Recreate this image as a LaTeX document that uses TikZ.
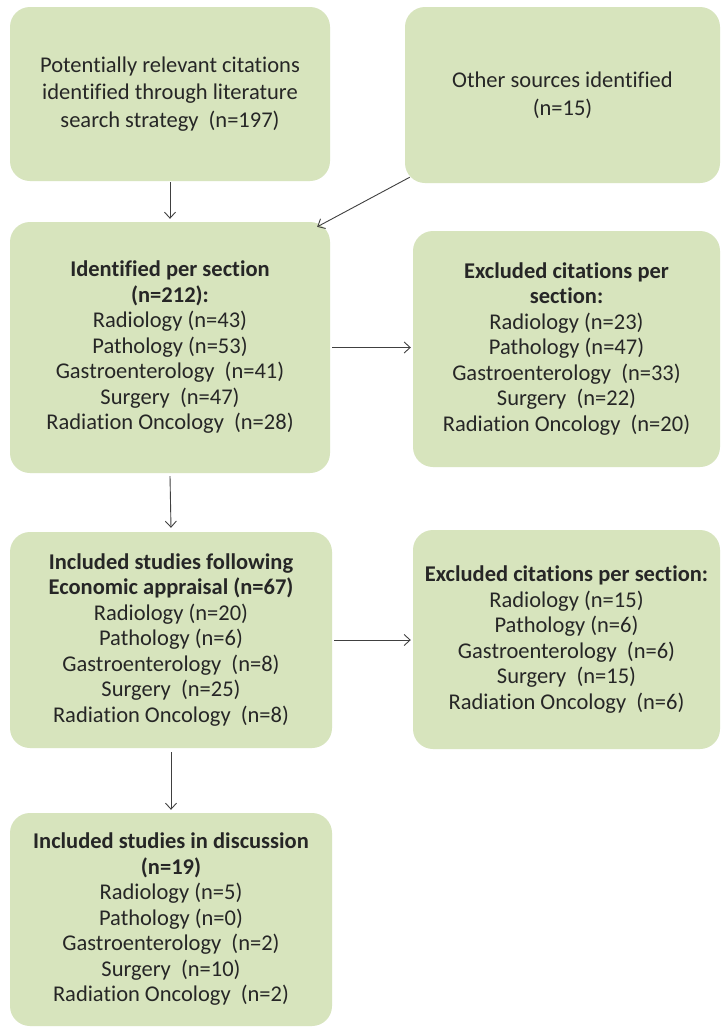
\documentclass[tikz,border=0pt]{standalone}
\usepackage{fontspec}
\setmainfont{Carlito}[RawFeature={-liga;-dlig;-calt;-rlig;-clig}]
\usetikzlibrary{arrows.meta}
\definecolor{boxfill}{HTML}{D7E4BD}
\definecolor{ink}{HTML}{262626}
\definecolor{arrowgray}{HTML}{404040}
% wider space before the counts
\newcommand\wgap{\hspace{0.45em}}
\begin{document}
\begin{tikzpicture}[x=1pt,y=-1pt,
  flowbox/.style={draw=none, fill=boxfill, rounded corners=20pt, align=center,
    text=ink, inner sep=0pt, font=\fontsize{22.5}{25.5}\selectfont},
  topbox/.style={flowbox, font=\fontsize{22.5}{27.5}\selectfont},
  flow/.style={draw=arrowgray, line width=0.9pt,
    -{Straight Barb[length=6pt,width=11pt]}}]

\fill[white] (0,0) rectangle (721,1028);
\useasboundingbox (0,0) rectangle (721,1028);

% first row: sources
\node[topbox, minimum width=320pt, minimum height=174pt] (lit) at (170,94)
  {Potentially relevant citations\\identified through literature\\search strategy\wgap(n=197)};
\node[topbox, minimum width=315pt, minimum height=176pt] (other) at (562.5,95)
  {Other sources identified\\(n=15)};

% second row: per-section counts and first exclusions
\node[flowbox, minimum width=320pt, minimum height=251pt] (ident) at (170,347.5)
  {\textbf{Identified per section}\\\textbf{(n=212):}\\Radiology (n=43)\\Pathology (n=53)\\Gastroenterology\wgap(n=41)\\Surgery\wgap(n=47)\\Radiation Oncology\wgap(n=28)};
\node[flowbox, minimum width=307pt, minimum height=236pt] (excl1) at (566.5,349)
  {\textbf{Excluded citations per}\\\textbf{section:}\\Radiology (n=23)\\Pathology (n=47)\\Gastroenterology\wgap(n=33)\\Surgery\wgap(n=22)\\Radiation Oncology\wgap(n=20)};

% third row: economic appraisal and second exclusions
\node[flowbox, minimum width=322pt, minimum height=216pt] (econ) at (171,640)
  {\textbf{Included studies following}\\\textbf{Economic appraisal (n=67)}\\Radiology (n=20)\\Pathology (n=6)\\Gastroenterology\wgap(n=8)\\Surgery\wgap(n=25)\\Radiation Oncology\wgap(n=8)};
\node[flowbox, minimum width=307pt, minimum height=219pt] (excl2) at (566.5,639.5)
  {\textbf{Excluded citations per section:}\\Radiology (n=15)\\Pathology (n=6)\\Gastroenterology\wgap(n=6)\\Surgery\wgap(n=15)\\Radiation Oncology\wgap(n=6)};

% last row: studies kept for discussion
\node[flowbox, minimum width=322pt, minimum height=213pt] (disc) at (171,919.5)
  {\textbf{Included studies in discussion}\\\textbf{(n=19)}\\Radiology (n=5)\\Pathology (n=0)\\Gastroenterology\wgap(n=2)\\Surgery\wgap(n=10)\\Radiation Oncology\wgap(n=2)};

% connectors
\draw[flow] ([yshift=-1pt]lit.south) -- ([yshift=3pt]ident.north);
\draw[flow] ([shift={(5,-6)}]other.south west) -- ([shift={(-13,5)}]ident.north east);
\draw[flow] ([xshift=2pt]ident.east) -- ([xshift=-2pt]ident.east -| excl1.west);
\draw[flow] ([yshift=-3pt]ident.south) -- ([yshift=4pt]econ.north);
\draw[flow] ([xshift=2pt]econ.east) -- ([xshift=-2pt]econ.east -| excl2.west);
\draw[flow] ([yshift=-4pt]econ.south) -- ([yshift=3pt]disc.north);
\end{tikzpicture}
\end{document}
